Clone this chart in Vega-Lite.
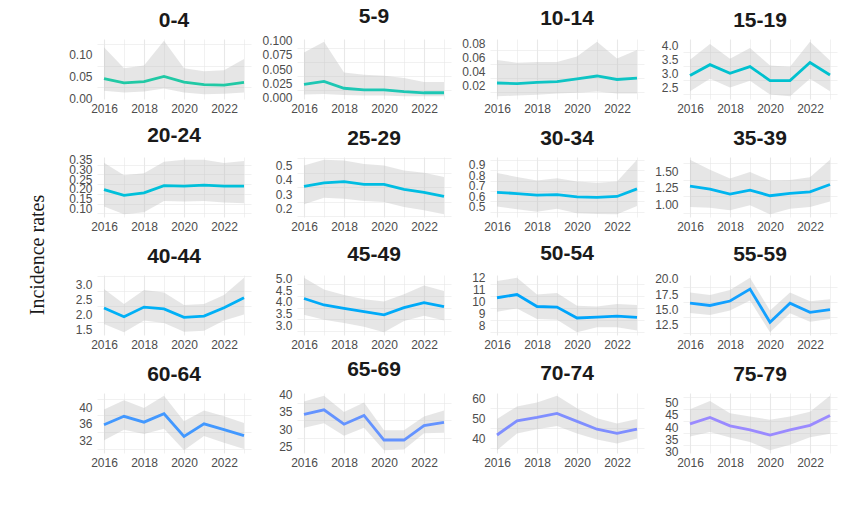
{
"$schema": "https://vega.github.io/schema/vega-lite/v6.json",
"padding": {"left": 18, "top": 5, "right": 5, "bottom": 5},
"background": "white",
"data": {"values": [
{"age":"0-4","year":2016,"rate":0.045,"lower":0.017,"upper":0.117},
{"age":"0-4","year":2017,"rate":0.035,"lower":0.013,"upper":0.069},
{"age":"0-4","year":2018,"rate":0.038,"lower":0.015,"upper":0.075},
{"age":"0-4","year":2019,"rate":0.050,"lower":0.022,"upper":0.132},
{"age":"0-4","year":2020,"rate":0.037,"lower":0.013,"upper":0.069},
{"age":"0-4","year":2021,"rate":0.031,"lower":0.009,"upper":0.062},
{"age":"0-4","year":2022,"rate":0.030,"lower":0.010,"upper":0.064},
{"age":"0-4","year":2023,"rate":0.036,"lower":0.013,"upper":0.090},
{"age":"5-9","year":2016,"rate":0.023,"lower":0.005,"upper":0.079},
{"age":"5-9","year":2017,"rate":0.028,"lower":0.006,"upper":0.098},
{"age":"5-9","year":2018,"rate":0.016,"lower":0.004,"upper":0.044},
{"age":"5-9","year":2019,"rate":0.013,"lower":0.003,"upper":0.040},
{"age":"5-9","year":2020,"rate":0.013,"lower":0.003,"upper":0.038},
{"age":"5-9","year":2021,"rate":0.010,"lower":0.002,"upper":0.034},
{"age":"5-9","year":2022,"rate":0.008,"lower":0.002,"upper":0.027},
{"age":"5-9","year":2023,"rate":0.008,"lower":0.002,"upper":0.027},
{"age":"10-14","year":2016,"rate":0.023,"lower":0.004,"upper":0.056},
{"age":"10-14","year":2017,"rate":0.022,"lower":0.005,"upper":0.052},
{"age":"10-14","year":2018,"rate":0.024,"lower":0.006,"upper":0.053},
{"age":"10-14","year":2019,"rate":0.025,"lower":0.008,"upper":0.053},
{"age":"10-14","year":2020,"rate":0.029,"lower":0.009,"upper":0.061},
{"age":"10-14","year":2021,"rate":0.033,"lower":0.011,"upper":0.082},
{"age":"10-14","year":2022,"rate":0.028,"lower":0.008,"upper":0.058},
{"age":"10-14","year":2023,"rate":0.030,"lower":0.008,"upper":0.070},
{"age":"15-19","year":2016,"rate":2.91,"lower":2.35,"upper":3.48},
{"age":"15-19","year":2017,"rate":3.30,"lower":2.80,"upper":4.04},
{"age":"15-19","year":2018,"rate":2.99,"lower":2.48,"upper":3.51},
{"age":"15-19","year":2019,"rate":3.23,"lower":2.72,"upper":3.90},
{"age":"15-19","year":2020,"rate":2.73,"lower":2.23,"upper":3.27},
{"age":"15-19","year":2021,"rate":2.73,"lower":2.17,"upper":3.23},
{"age":"15-19","year":2022,"rate":3.38,"lower":2.80,"upper":4.12},
{"age":"15-19","year":2023,"rate":2.93,"lower":2.35,"upper":3.45},
{"age":"20-24","year":2016,"rate":0.197,"lower":0.110,"upper":0.335},
{"age":"20-24","year":2017,"rate":0.167,"lower":0.070,"upper":0.270},
{"age":"20-24","year":2018,"rate":0.180,"lower":0.080,"upper":0.280},
{"age":"20-24","year":2019,"rate":0.217,"lower":0.138,"upper":0.340},
{"age":"20-24","year":2020,"rate":0.214,"lower":0.135,"upper":0.350},
{"age":"20-24","year":2021,"rate":0.220,"lower":0.138,"upper":0.350},
{"age":"20-24","year":2022,"rate":0.214,"lower":0.130,"upper":0.333},
{"age":"20-24","year":2023,"rate":0.215,"lower":0.127,"upper":0.343},
{"age":"25-29","year":2016,"rate":0.356,"lower":0.232,"upper":0.500},
{"age":"25-29","year":2017,"rate":0.380,"lower":0.277,"upper":0.540},
{"age":"25-29","year":2018,"rate":0.389,"lower":0.270,"upper":0.534},
{"age":"25-29","year":2019,"rate":0.370,"lower":0.255,"upper":0.510},
{"age":"25-29","year":2020,"rate":0.370,"lower":0.248,"upper":0.500},
{"age":"25-29","year":2021,"rate":0.335,"lower":0.214,"upper":0.466},
{"age":"25-29","year":2022,"rate":0.314,"lower":0.190,"upper":0.450},
{"age":"25-29","year":2023,"rate":0.287,"lower":0.163,"upper":0.420},
{"age":"30-34","year":2016,"rate":0.637,"lower":0.500,"upper":0.822},
{"age":"30-34","year":2017,"rate":0.625,"lower":0.475,"upper":0.785},
{"age":"30-34","year":2018,"rate":0.610,"lower":0.450,"upper":0.750},
{"age":"30-34","year":2019,"rate":0.615,"lower":0.480,"upper":0.773},
{"age":"30-34","year":2020,"rate":0.594,"lower":0.435,"upper":0.740},
{"age":"30-34","year":2021,"rate":0.588,"lower":0.430,"upper":0.730},
{"age":"30-34","year":2022,"rate":0.597,"lower":0.426,"upper":0.740},
{"age":"30-34","year":2023,"rate":0.670,"lower":0.506,"upper":0.950},
{"age":"35-39","year":2016,"rate":1.275,"lower":0.96,"upper":1.675},
{"age":"35-39","year":2017,"rate":1.23,"lower":0.95,"upper":1.525},
{"age":"35-39","year":2018,"rate":1.155,"lower":0.91,"upper":1.39},
{"age":"35-39","year":2019,"rate":1.215,"lower":0.985,"upper":1.49},
{"age":"35-39","year":2020,"rate":1.13,"lower":0.85,"upper":1.36},
{"age":"35-39","year":2021,"rate":1.165,"lower":0.935,"upper":1.37},
{"age":"35-39","year":2022,"rate":1.19,"lower":0.96,"upper":1.41},
{"age":"35-39","year":2023,"rate":1.30,"lower":1.045,"upper":1.675},
{"age":"40-44","year":2016,"rate":2.20,"lower":1.67,"upper":2.83},
{"age":"40-44","year":2017,"rate":1.91,"lower":1.39,"upper":2.33},
{"age":"40-44","year":2018,"rate":2.23,"lower":1.78,"upper":2.80},
{"age":"40-44","year":2019,"rate":2.17,"lower":1.70,"upper":2.72},
{"age":"40-44","year":2020,"rate":1.89,"lower":1.41,"upper":2.30},
{"age":"40-44","year":2021,"rate":1.93,"lower":1.44,"upper":2.33},
{"age":"40-44","year":2022,"rate":2.21,"lower":1.78,"upper":2.63},
{"age":"40-44","year":2023,"rate":2.54,"lower":1.98,"upper":3.21},
{"age":"45-49","year":2016,"rate":4.15,"lower":3.45,"upper":5.04},
{"age":"45-49","year":2017,"rate":3.87,"lower":3.24,"upper":4.54},
{"age":"45-49","year":2018,"rate":3.73,"lower":3.10,"upper":4.30},
{"age":"45-49","year":2019,"rate":3.59,"lower":2.94,"upper":4.12},
{"age":"45-49","year":2020,"rate":3.45,"lower":2.70,"upper":4.02},
{"age":"45-49","year":2021,"rate":3.76,"lower":3.18,"upper":4.33},
{"age":"45-49","year":2022,"rate":3.97,"lower":3.41,"upper":4.71},
{"age":"45-49","year":2023,"rate":3.80,"lower":3.20,"upper":4.47},
{"age":"50-54","year":2016,"rate":10.33,"lower":9.17,"upper":11.72},
{"age":"50-54","year":2017,"rate":10.60,"lower":9.44,"upper":12.00},
{"age":"50-54","year":2018,"rate":9.60,"lower":8.55,"upper":10.60},
{"age":"50-54","year":2019,"rate":9.55,"lower":8.50,"upper":10.72},
{"age":"50-54","year":2020,"rate":8.64,"lower":7.45,"upper":9.66},
{"age":"50-54","year":2021,"rate":8.72,"lower":7.86,"upper":9.60},
{"age":"50-54","year":2022,"rate":8.80,"lower":7.86,"upper":9.80},
{"age":"50-54","year":2023,"rate":8.69,"lower":7.60,"upper":9.72},
{"age":"55-59","year":2016,"rate":16.05,"lower":14.45,"upper":17.8},
{"age":"55-59","year":2017,"rate":15.67,"lower":14.1,"upper":17.4},
{"age":"55-59","year":2018,"rate":16.4,"lower":14.85,"upper":18.2},
{"age":"55-59","year":2019,"rate":18.35,"lower":16.5,"upper":20.2},
{"age":"55-59","year":2020,"rate":12.94,"lower":11.3,"upper":14.85},
{"age":"55-59","year":2021,"rate":16.05,"lower":14.4,"upper":17.8},
{"age":"55-59","year":2022,"rate":14.56,"lower":13.0,"upper":16.35},
{"age":"55-59","year":2023,"rate":15.0,"lower":13.45,"upper":16.7},
{"age":"60-64","year":2016,"rate":35.8,"lower":32.1,"upper":39.4},
{"age":"60-64","year":2017,"rate":37.8,"lower":34.6,"upper":41.6},
{"age":"60-64","year":2018,"rate":36.4,"lower":33.6,"upper":39.8},
{"age":"60-64","year":2019,"rate":38.4,"lower":34.8,"upper":42.7},
{"age":"60-64","year":2020,"rate":33.0,"lower":29.7,"upper":36.6},
{"age":"60-64","year":2021,"rate":36.0,"lower":33.1,"upper":39.2},
{"age":"60-64","year":2022,"rate":34.6,"lower":31.5,"upper":37.8},
{"age":"60-64","year":2023,"rate":33.2,"lower":30.0,"upper":36.2},
{"age":"65-69","year":2016,"rate":34.2,"lower":30.4,"upper":37.9},
{"age":"65-69","year":2017,"rate":35.5,"lower":31.7,"upper":39.5},
{"age":"65-69","year":2018,"rate":31.4,"lower":28.1,"upper":34.9},
{"age":"65-69","year":2019,"rate":33.9,"lower":30.4,"upper":37.6},
{"age":"65-69","year":2020,"rate":26.9,"lower":24.0,"upper":29.7},
{"age":"65-69","year":2021,"rate":26.9,"lower":24.2,"upper":29.7},
{"age":"65-69","year":2022,"rate":31.0,"lower":28.8,"upper":33.6},
{"age":"65-69","year":2023,"rate":31.9,"lower":29.0,"upper":35.3},
{"age":"70-74","year":2016,"rate":41.7,"lower":34.1,"upper":49.7},
{"age":"70-74","year":2017,"rate":48.8,"lower":42.5,"upper":56.0},
{"age":"70-74","year":2018,"rate":50.5,"lower":44.6,"upper":58.0},
{"age":"70-74","year":2019,"rate":52.5,"lower":46.2,"upper":61.3},
{"age":"70-74","year":2020,"rate":48.5,"lower":42.4,"upper":55.1},
{"age":"70-74","year":2021,"rate":44.6,"lower":39.5,"upper":50.1},
{"age":"70-74","year":2022,"rate":42.5,"lower":37.5,"upper":47.4},
{"age":"70-74","year":2023,"rate":44.6,"lower":40.0,"upper":49.7},
{"age":"75-79","year":2016,"rate":41.3,"lower":36.1,"upper":47.3},
{"age":"75-79","year":2017,"rate":43.9,"lower":37.9,"upper":50.7},
{"age":"75-79","year":2018,"rate":40.5,"lower":35.7,"upper":45.7},
{"age":"75-79","year":2019,"rate":38.8,"lower":33.8,"upper":44.3},
{"age":"75-79","year":2020,"rate":36.7,"lower":30.4,"upper":43.0},
{"age":"75-79","year":2021,"rate":38.8,"lower":32.7,"upper":44.3},
{"age":"75-79","year":2022,"rate":40.7,"lower":35.8,"upper":46.3},
{"age":"75-79","year":2023,"rate":44.7,"lower":37.2,"upper":52.9}
]},
"config": {
  "view": {"stroke": null},
  "font": "Liberation Sans",
  "axis": {"domain": false, "ticks": false, "labelFont": "Liberation Sans", "labelFontSize": 12, "labelColor": "#4d4d4d", "gridColor": "#e8e8e8", "gridWidth": 1.1, "labelPadding": 5, "labelFlush": false, "labelOverlap": false},
  "axisX": {"labelPadding": 4},
  "title": {"fontSize": 21, "fontWeight": "bold", "color": "#1a1a1a", "offset": 8, "font": "Liberation Sans"}
},
"spacing": 10,
"hconcat": [
  {"width": 40, "height": 432, "data": {"values": [{"label": "Incidence rates"}]},
   "mark": {"type": "text", "angle": 270, "font": "Liberation Serif", "fontSize": 20, "color": "#1a1a1a"},
   "encoding": {"text": {"field": "label"}}},
  {"bounds": "flush", "spacing": 58, "vconcat": [
    {"width": 154, "height": 60, "title": "0-4", "transform": [{"filter": {"field": "age", "equal": "0-4"}}], "resolve": {"axis": {"y": "independent"}},
     "encoding": {"x": {"field": "year", "type": "quantitative", "scale": {"domain": [2015.65, 2023.35]}, "axis": {"title": null, "labelOverlap": false, "values": [2016,2017,2018,2019,2020,2021,2022,2023], "format": "d", "labelExpr": "datum.value % 2 == 0 ? datum.label : ''", "gridWidth": {"condition": {"test": "datum.value % 2 == 0", "value": 1.1}, "value": 0.6}}}},
     "layer": [
      {"mark": {"type": "area", "color": "#bdbdbd", "opacity": 0.38}, "encoding": {"y": {"field": "lower", "type": "quantitative", "axis": {"title": null, "orient": "right", "labels": false, "grid": true, "gridWidth": 0.6, "values": [0.025, 0.075, 0.125]}}, "y2": {"field": "upper"}}},
      {"mark": {"type": "line", "color": "#21c9a5", "strokeWidth": 2.8}, "encoding": {"y": {"field": "rate", "type": "quantitative", "scale": {"domain": [-0.002, 0.136], "zero": false, "nice": false}, "axis": {"title": null, "labelOverlap": false, "values": [0, 0.05, 0.1], "format": ".2f"}}}}
     ]},
    {"width": 154, "height": 60, "title": "20-24", "transform": [{"filter": {"field": "age", "equal": "20-24"}}], "resolve": {"axis": {"y": "independent"}},
     "encoding": {"x": {"field": "year", "type": "quantitative", "scale": {"domain": [2015.65, 2023.35]}, "axis": {"title": null, "labelOverlap": false, "values": [2016,2017,2018,2019,2020,2021,2022,2023], "format": "d", "labelExpr": "datum.value % 2 == 0 ? datum.label : ''", "gridWidth": {"condition": {"test": "datum.value % 2 == 0", "value": 1.1}, "value": 0.6}}}},
     "layer": [
      {"mark": {"type": "area", "color": "#bdbdbd", "opacity": 0.38}, "encoding": {"y": {"field": "lower", "type": "quantitative", "axis": {"title": null, "orient": "right", "labels": false, "grid": true, "gridWidth": 0.6, "values": [0.075, 0.125, 0.175, 0.225, 0.275, 0.325]}}, "y2": {"field": "upper"}}},
      {"mark": {"type": "line", "color": "#00c0da", "strokeWidth": 2.8}, "encoding": {"y": {"field": "rate", "type": "quantitative", "scale": {"domain": [0.056, 0.364], "zero": false, "nice": false}, "axis": {"title": null, "labelOverlap": false, "values": [0.1, 0.15, 0.2, 0.25, 0.3, 0.35], "format": ".2f"}}}}
     ]},
    {"width": 154, "height": 60, "title": "40-44", "transform": [{"filter": {"field": "age", "equal": "40-44"}}], "resolve": {"axis": {"y": "independent"}},
     "encoding": {"x": {"field": "year", "type": "quantitative", "scale": {"domain": [2015.65, 2023.35]}, "axis": {"title": null, "labelOverlap": false, "values": [2016,2017,2018,2019,2020,2021,2022,2023], "format": "d", "labelExpr": "datum.value % 2 == 0 ? datum.label : ''", "gridWidth": {"condition": {"test": "datum.value % 2 == 0", "value": 1.1}, "value": 0.6}}}},
     "layer": [
      {"mark": {"type": "area", "color": "#bdbdbd", "opacity": 0.38}, "encoding": {"y": {"field": "lower", "type": "quantitative", "axis": {"title": null, "orient": "right", "labels": false, "grid": true, "gridWidth": 0.6, "values": [1.75, 2.25, 2.75, 3.25]}}, "y2": {"field": "upper"}}},
      {"mark": {"type": "line", "color": "#00b0f6", "strokeWidth": 2.8}, "encoding": {"y": {"field": "rate", "type": "quantitative", "scale": {"domain": [1.30, 3.30], "zero": false, "nice": false}, "axis": {"title": null, "labelOverlap": false, "values": [1.5, 2, 2.5, 3], "format": ".1f"}}}}
     ]},
    {"width": 154, "height": 60, "title": "60-64", "transform": [{"filter": {"field": "age", "equal": "60-64"}}], "resolve": {"axis": {"y": "independent"}},
     "encoding": {"x": {"field": "year", "type": "quantitative", "scale": {"domain": [2015.65, 2023.35]}, "axis": {"title": null, "labelOverlap": false, "values": [2016,2017,2018,2019,2020,2021,2022,2023], "format": "d", "labelExpr": "datum.value % 2 == 0 ? datum.label : ''", "gridWidth": {"condition": {"test": "datum.value % 2 == 0", "value": 1.1}, "value": 0.6}}}},
     "layer": [
      {"mark": {"type": "area", "color": "#bdbdbd", "opacity": 0.38}, "encoding": {"y": {"field": "lower", "type": "quantitative", "axis": {"title": null, "orient": "right", "labels": false, "grid": true, "gridWidth": 0.6, "values": [30, 34, 38, 42]}}, "y2": {"field": "upper"}}},
      {"mark": {"type": "line", "color": "#4298ff", "strokeWidth": 2.8}, "encoding": {"y": {"field": "rate", "type": "quantitative", "scale": {"domain": [29.05, 43.35], "zero": false, "nice": false}, "axis": {"title": null, "labelOverlap": false, "values": [32, 36, 40], "format": "d"}}}}
     ]}
  ]},
  {"bounds": "flush", "spacing": 58, "vconcat": [
    {"width": 154, "height": 60, "title": "5-9", "transform": [{"filter": {"field": "age", "equal": "5-9"}}], "resolve": {"axis": {"y": "independent"}},
     "encoding": {"x": {"field": "year", "type": "quantitative", "scale": {"domain": [2015.65, 2023.35]}, "axis": {"title": null, "labelOverlap": false, "values": [2016,2017,2018,2019,2020,2021,2022,2023], "format": "d", "labelExpr": "datum.value % 2 == 0 ? datum.label : ''", "gridWidth": {"condition": {"test": "datum.value % 2 == 0", "value": 1.1}, "value": 0.6}}}},
     "layer": [
      {"mark": {"type": "area", "color": "#bdbdbd", "opacity": 0.38}, "encoding": {"y": {"field": "lower", "type": "quantitative", "axis": {"title": null, "orient": "right", "labels": false, "grid": true, "gridWidth": 0.6, "values": [0.0125, 0.0375, 0.0625, 0.0875]}}, "y2": {"field": "upper"}}},
      {"mark": {"type": "line", "color": "#1dc7b4", "strokeWidth": 2.8}, "encoding": {"y": {"field": "rate", "type": "quantitative", "scale": {"domain": [-0.003, 0.103], "zero": false, "nice": false}, "axis": {"title": null, "labelOverlap": false, "values": [0, 0.025, 0.05, 0.075, 0.1], "format": ".3f"}}}}
     ]},
    {"width": 154, "height": 60, "title": "25-29", "transform": [{"filter": {"field": "age", "equal": "25-29"}}], "resolve": {"axis": {"y": "independent"}},
     "encoding": {"x": {"field": "year", "type": "quantitative", "scale": {"domain": [2015.65, 2023.35]}, "axis": {"title": null, "labelOverlap": false, "values": [2016,2017,2018,2019,2020,2021,2022,2023], "format": "d", "labelExpr": "datum.value % 2 == 0 ? datum.label : ''", "gridWidth": {"condition": {"test": "datum.value % 2 == 0", "value": 1.1}, "value": 0.6}}}},
     "layer": [
      {"mark": {"type": "area", "color": "#bdbdbd", "opacity": 0.38}, "encoding": {"y": {"field": "lower", "type": "quantitative", "axis": {"title": null, "orient": "right", "labels": false, "grid": true, "gridWidth": 0.6, "values": [0.15, 0.25, 0.35, 0.45, 0.55]}}, "y2": {"field": "upper"}}},
      {"mark": {"type": "line", "color": "#00bde2", "strokeWidth": 2.8}, "encoding": {"y": {"field": "rate", "type": "quantitative", "scale": {"domain": [0.144, 0.559], "zero": false, "nice": false}, "axis": {"title": null, "labelOverlap": false, "values": [0.2, 0.3, 0.4, 0.5], "format": ".1f"}}}}
     ]},
    {"width": 154, "height": 60, "title": "45-49", "transform": [{"filter": {"field": "age", "equal": "45-49"}}], "resolve": {"axis": {"y": "independent"}},
     "encoding": {"x": {"field": "year", "type": "quantitative", "scale": {"domain": [2015.65, 2023.35]}, "axis": {"title": null, "labelOverlap": false, "values": [2016,2017,2018,2019,2020,2021,2022,2023], "format": "d", "labelExpr": "datum.value % 2 == 0 ? datum.label : ''", "gridWidth": {"condition": {"test": "datum.value % 2 == 0", "value": 1.1}, "value": 0.6}}}},
     "layer": [
      {"mark": {"type": "area", "color": "#bdbdbd", "opacity": 0.38}, "encoding": {"y": {"field": "lower", "type": "quantitative", "axis": {"title": null, "orient": "right", "labels": false, "grid": true, "gridWidth": 0.6, "values": [2.75, 3.25, 3.75, 4.25, 4.75]}}, "y2": {"field": "upper"}}},
      {"mark": {"type": "line", "color": "#00aaf8", "strokeWidth": 2.8}, "encoding": {"y": {"field": "rate", "type": "quantitative", "scale": {"domain": [2.583, 5.157], "zero": false, "nice": false}, "axis": {"title": null, "labelOverlap": false, "values": [3, 3.5, 4, 4.5, 5], "format": ".1f"}}}}
     ]},
    {"width": 154, "height": 60, "title": "65-69", "transform": [{"filter": {"field": "age", "equal": "65-69"}}], "resolve": {"axis": {"y": "independent"}},
     "encoding": {"x": {"field": "year", "type": "quantitative", "scale": {"domain": [2015.65, 2023.35]}, "axis": {"title": null, "labelOverlap": false, "values": [2016,2017,2018,2019,2020,2021,2022,2023], "format": "d", "labelExpr": "datum.value % 2 == 0 ? datum.label : ''", "gridWidth": {"condition": {"test": "datum.value % 2 == 0", "value": 1.1}, "value": 0.6}}}},
     "layer": [
      {"mark": {"type": "area", "color": "#bdbdbd", "opacity": 0.38}, "encoding": {"y": {"field": "lower", "type": "quantitative", "axis": {"title": null, "orient": "right", "labels": false, "grid": true, "gridWidth": 0.6, "values": [27.5, 32.5, 37.5]}}, "y2": {"field": "upper"}}},
      {"mark": {"type": "line", "color": "#6493ff", "strokeWidth": 2.8}, "encoding": {"y": {"field": "rate", "type": "quantitative", "scale": {"domain": [23.2, 40.3], "zero": false, "nice": false}, "axis": {"title": null, "labelOverlap": false, "values": [25, 30, 35, 40], "format": "d"}}}}
     ]}
  ]},
  {"bounds": "flush", "spacing": 58, "vconcat": [
    {"width": 154, "height": 60, "title": "10-14", "transform": [{"filter": {"field": "age", "equal": "10-14"}}], "resolve": {"axis": {"y": "independent"}},
     "encoding": {"x": {"field": "year", "type": "quantitative", "scale": {"domain": [2015.65, 2023.35]}, "axis": {"title": null, "labelOverlap": false, "values": [2016,2017,2018,2019,2020,2021,2022,2023], "format": "d", "labelExpr": "datum.value % 2 == 0 ? datum.label : ''", "gridWidth": {"condition": {"test": "datum.value % 2 == 0", "value": 1.1}, "value": 0.6}}}},
     "layer": [
      {"mark": {"type": "area", "color": "#bdbdbd", "opacity": 0.38}, "encoding": {"y": {"field": "lower", "type": "quantitative", "axis": {"title": null, "orient": "right", "labels": false, "grid": true, "gridWidth": 0.6, "values": [0.01, 0.03, 0.05, 0.07]}}, "y2": {"field": "upper"}}},
      {"mark": {"type": "line", "color": "#0ec4c4", "strokeWidth": 2.8}, "encoding": {"y": {"field": "rate", "type": "quantitative", "scale": {"domain": [0.0001, 0.0859], "zero": false, "nice": false}, "axis": {"title": null, "labelOverlap": false, "values": [0.02, 0.04, 0.06, 0.08], "format": ".2f"}}}}
     ]},
    {"width": 154, "height": 60, "title": "30-34", "transform": [{"filter": {"field": "age", "equal": "30-34"}}], "resolve": {"axis": {"y": "independent"}},
     "encoding": {"x": {"field": "year", "type": "quantitative", "scale": {"domain": [2015.65, 2023.35]}, "axis": {"title": null, "labelOverlap": false, "values": [2016,2017,2018,2019,2020,2021,2022,2023], "format": "d", "labelExpr": "datum.value % 2 == 0 ? datum.label : ''", "gridWidth": {"condition": {"test": "datum.value % 2 == 0", "value": 1.1}, "value": 0.6}}}},
     "layer": [
      {"mark": {"type": "area", "color": "#bdbdbd", "opacity": 0.38}, "encoding": {"y": {"field": "lower", "type": "quantitative", "axis": {"title": null, "orient": "right", "labels": false, "grid": true, "gridWidth": 0.6, "values": [0.45, 0.55, 0.65, 0.75, 0.85, 0.95]}}, "y2": {"field": "upper"}}},
      {"mark": {"type": "line", "color": "#00bae9", "strokeWidth": 2.8}, "encoding": {"y": {"field": "rate", "type": "quantitative", "scale": {"domain": [0.40, 0.976], "zero": false, "nice": false}, "axis": {"title": null, "labelOverlap": false, "values": [0.5, 0.6, 0.7, 0.8, 0.9], "format": ".1f"}}}}
     ]},
    {"width": 154, "height": 60, "title": "50-54", "transform": [{"filter": {"field": "age", "equal": "50-54"}}], "resolve": {"axis": {"y": "independent"}},
     "encoding": {"x": {"field": "year", "type": "quantitative", "scale": {"domain": [2015.65, 2023.35]}, "axis": {"title": null, "labelOverlap": false, "values": [2016,2017,2018,2019,2020,2021,2022,2023], "format": "d", "labelExpr": "datum.value % 2 == 0 ? datum.label : ''", "gridWidth": {"condition": {"test": "datum.value % 2 == 0", "value": 1.1}, "value": 0.6}}}},
     "layer": [
      {"mark": {"type": "area", "color": "#bdbdbd", "opacity": 0.38}, "encoding": {"y": {"field": "lower", "type": "quantitative", "axis": {"title": null, "orient": "right", "labels": false, "grid": true, "gridWidth": 0.6, "values": [7.5, 8.5, 9.5, 10.5, 11.5]}}, "y2": {"field": "upper"}}},
      {"mark": {"type": "line", "color": "#00a5fb", "strokeWidth": 2.8}, "encoding": {"y": {"field": "rate", "type": "quantitative", "scale": {"domain": [7.22, 12.23], "zero": false, "nice": false}, "axis": {"title": null, "labelOverlap": false, "values": [8, 9, 10, 11, 12], "format": "d"}}}}
     ]},
    {"width": 154, "height": 60, "title": "70-74", "transform": [{"filter": {"field": "age", "equal": "70-74"}}], "resolve": {"axis": {"y": "independent"}},
     "encoding": {"x": {"field": "year", "type": "quantitative", "scale": {"domain": [2015.65, 2023.35]}, "axis": {"title": null, "labelOverlap": false, "values": [2016,2017,2018,2019,2020,2021,2022,2023], "format": "d", "labelExpr": "datum.value % 2 == 0 ? datum.label : ''", "gridWidth": {"condition": {"test": "datum.value % 2 == 0", "value": 1.1}, "value": 0.6}}}},
     "layer": [
      {"mark": {"type": "area", "color": "#bdbdbd", "opacity": 0.38}, "encoding": {"y": {"field": "lower", "type": "quantitative", "axis": {"title": null, "orient": "right", "labels": false, "grid": true, "gridWidth": 0.6, "values": [35, 45, 55]}}, "y2": {"field": "upper"}}},
      {"mark": {"type": "line", "color": "#7f8eff", "strokeWidth": 2.8}, "encoding": {"y": {"field": "rate", "type": "quantitative", "scale": {"domain": [32.7, 62.7], "zero": false, "nice": false}, "axis": {"title": null, "labelOverlap": false, "values": [40, 50, 60], "format": "d"}}}}
     ]}
  ]},
  {"bounds": "flush", "spacing": 58, "vconcat": [
    {"width": 154, "height": 60, "title": "15-19", "transform": [{"filter": {"field": "age", "equal": "15-19"}}], "resolve": {"axis": {"y": "independent"}},
     "encoding": {"x": {"field": "year", "type": "quantitative", "scale": {"domain": [2015.65, 2023.35]}, "axis": {"title": null, "labelOverlap": false, "values": [2016,2017,2018,2019,2020,2021,2022,2023], "format": "d", "labelExpr": "datum.value % 2 == 0 ? datum.label : ''", "gridWidth": {"condition": {"test": "datum.value % 2 == 0", "value": 1.1}, "value": 0.6}}}},
     "layer": [
      {"mark": {"type": "area", "color": "#bdbdbd", "opacity": 0.38}, "encoding": {"y": {"field": "lower", "type": "quantitative", "axis": {"title": null, "orient": "right", "labels": false, "grid": true, "gridWidth": 0.6, "values": [2.25, 2.75, 3.25, 3.75]}}, "y2": {"field": "upper"}}},
      {"mark": {"type": "line", "color": "#00c1cf", "strokeWidth": 2.8}, "encoding": {"y": {"field": "rate", "type": "quantitative", "scale": {"domain": [2.07, 4.22], "zero": false, "nice": false}, "axis": {"title": null, "labelOverlap": false, "values": [2.5, 3, 3.5, 4], "format": ".1f"}}}}
     ]},
    {"width": 154, "height": 60, "title": "35-39", "transform": [{"filter": {"field": "age", "equal": "35-39"}}], "resolve": {"axis": {"y": "independent"}},
     "encoding": {"x": {"field": "year", "type": "quantitative", "scale": {"domain": [2015.65, 2023.35]}, "axis": {"title": null, "labelOverlap": false, "values": [2016,2017,2018,2019,2020,2021,2022,2023], "format": "d", "labelExpr": "datum.value % 2 == 0 ? datum.label : ''", "gridWidth": {"condition": {"test": "datum.value % 2 == 0", "value": 1.1}, "value": 0.6}}}},
     "layer": [
      {"mark": {"type": "area", "color": "#bdbdbd", "opacity": 0.38}, "encoding": {"y": {"field": "lower", "type": "quantitative", "axis": {"title": null, "orient": "right", "labels": false, "grid": true, "gridWidth": 0.6, "values": [0.875, 1.125, 1.375, 1.625]}}, "y2": {"field": "upper"}}},
      {"mark": {"type": "line", "color": "#00b5ef", "strokeWidth": 2.8}, "encoding": {"y": {"field": "rate", "type": "quantitative", "scale": {"domain": [0.809, 1.716], "zero": false, "nice": false}, "axis": {"title": null, "labelOverlap": false, "values": [1, 1.25, 1.5], "format": ".2f"}}}}
     ]},
    {"width": 154, "height": 60, "title": "55-59", "transform": [{"filter": {"field": "age", "equal": "55-59"}}], "resolve": {"axis": {"y": "independent"}},
     "encoding": {"x": {"field": "year", "type": "quantitative", "scale": {"domain": [2015.65, 2023.35]}, "axis": {"title": null, "labelOverlap": false, "values": [2016,2017,2018,2019,2020,2021,2022,2023], "format": "d", "labelExpr": "datum.value % 2 == 0 ? datum.label : ''", "gridWidth": {"condition": {"test": "datum.value % 2 == 0", "value": 1.1}, "value": 0.6}}}},
     "layer": [
      {"mark": {"type": "area", "color": "#bdbdbd", "opacity": 0.38}, "encoding": {"y": {"field": "lower", "type": "quantitative", "axis": {"title": null, "orient": "right", "labels": false, "grid": true, "gridWidth": 0.6, "values": [11.25, 13.75, 16.25, 18.75]}}, "y2": {"field": "upper"}}},
      {"mark": {"type": "line", "color": "#12a0ff", "strokeWidth": 2.8}, "encoding": {"y": {"field": "rate", "type": "quantitative", "scale": {"domain": [10.855, 20.645], "zero": false, "nice": false}, "axis": {"title": null, "labelOverlap": false, "values": [12.5, 15, 17.5, 20], "format": ".1f"}}}}
     ]},
    {"width": 154, "height": 60, "title": "75-79", "transform": [{"filter": {"field": "age", "equal": "75-79"}}], "resolve": {"axis": {"y": "independent"}},
     "encoding": {"x": {"field": "year", "type": "quantitative", "scale": {"domain": [2015.65, 2023.35]}, "axis": {"title": null, "labelOverlap": false, "values": [2016,2017,2018,2019,2020,2021,2022,2023], "format": "d", "labelExpr": "datum.value % 2 == 0 ? datum.label : ''", "gridWidth": {"condition": {"test": "datum.value % 2 == 0", "value": 1.1}, "value": 0.6}}}},
     "layer": [
      {"mark": {"type": "area", "color": "#bdbdbd", "opacity": 0.38}, "encoding": {"y": {"field": "lower", "type": "quantitative", "axis": {"title": null, "orient": "right", "labels": false, "grid": true, "gridWidth": 0.6, "values": [32.5, 37.5, 42.5, 47.5, 52.5]}}, "y2": {"field": "upper"}}},
      {"mark": {"type": "line", "color": "#9a8aff", "strokeWidth": 2.8}, "encoding": {"y": {"field": "rate", "type": "quantitative", "scale": {"domain": [29.3, 54.0], "zero": false, "nice": false}, "axis": {"title": null, "labelOverlap": false, "values": [30, 35, 40, 45, 50], "format": "d"}}}}
     ]}
  ]}
]
}
